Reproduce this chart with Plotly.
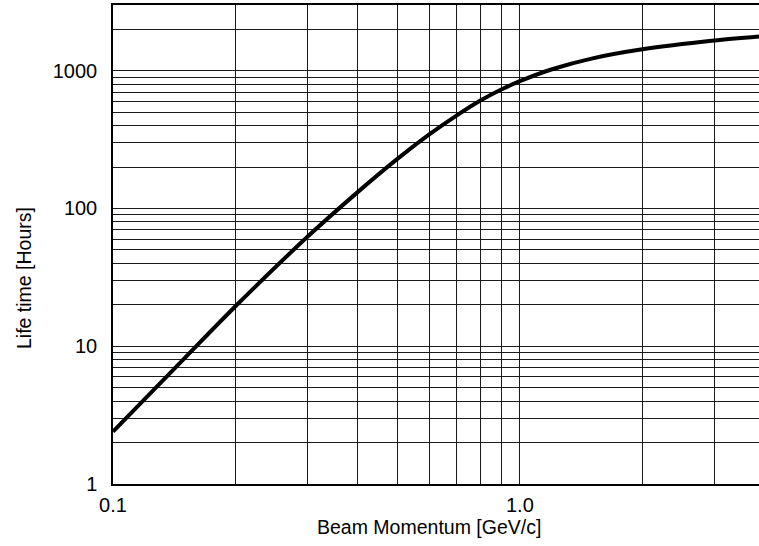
import plotly.graph_objects as go
import math

# Data
momentum = [0.1, 0.15, 0.2, 0.3, 0.4, 0.5, 0.6, 0.7, 0.8, 0.9, 1.0, 1.2, 1.5, 2.0, 3.0, 3.87]
lifetime = [2.4, 8.2, 19.5, 62, 132, 229, 346, 474, 607, 730, 840, 1025, 1225, 1430, 1655, 1771]

x_grid = [0.1, 0.2, 0.3, 0.4, 0.5, 0.6, 0.7, 0.8, 0.9, 1.0, 2.0, 3.0]
x_labels = {0.1: "0.1", 1.0: "1.0"}
y_grid = [m * 10 ** e for e in range(0, 4) for m in range(1, 10) if m * 10 ** e < 3000]
y_labels = {1: "1", 10: "10", 100: "100", 1000: "1000"}

font_family = "Liberation Sans, Arial, Helvetica, sans-serif"

fig = go.Figure()
fig.add_trace(go.Scatter(
    x=momentum, y=lifetime, mode="lines",
    line=dict(color="black", width=4, shape="spline", smoothing=0.8),
    showlegend=False, hoverinfo="skip",
))

fig.update_layout(
    width=759, height=546,
    margin=dict(l=113, r=0, t=5, b=62),
    paper_bgcolor="white", plot_bgcolor="white",
    font=dict(family=font_family, size=20, color="black"),
    xaxis=dict(
        type="log", range=[-1, math.log10(3.87)],
        tickvals=x_grid,
        ticktext=[x_labels.get(v, "") for v in x_grid],
        showgrid=True, gridcolor="#1a1a1a", gridwidth=1,
        showline=True, linecolor="black", linewidth=1.5, mirror=True,
        ticks="outside", ticklen=2, tickcolor="rgba(0,0,0,0)",
        zeroline=False,
    ),
    yaxis=dict(
        type="log", range=[0, math.log10(3000)],
        tickvals=y_grid,
        ticktext=[y_labels.get(v, "") for v in y_grid],
        showgrid=True, gridcolor="#1a1a1a", gridwidth=1,
        showline=True, linecolor="black", linewidth=1.5, mirror=False,
        ticks="outside", ticklen=10, tickcolor="rgba(0,0,0,0)",
        zeroline=False,
    ),
    annotations=[
        dict(text="Beam Momentum [GeV/c]", xref="paper", yref="paper",
             x=(429 - 113) / 646, y=(484 - 527) / 479, xanchor="center", yanchor="middle",
             showarrow=False, font=dict(size=19.5)),
        dict(text="Life time [Hours]", xref="paper", yref="paper",
             x=(24 - 113) / 646, y=(484 - 278) / 479, xanchor="center", yanchor="middle",
             textangle=-90, showarrow=False, font=dict(size=19.5)),
    ],
)

fig.write_html("out.html", config={"displayModeBar": False},
               post_script="document.body.style.margin='0';")
